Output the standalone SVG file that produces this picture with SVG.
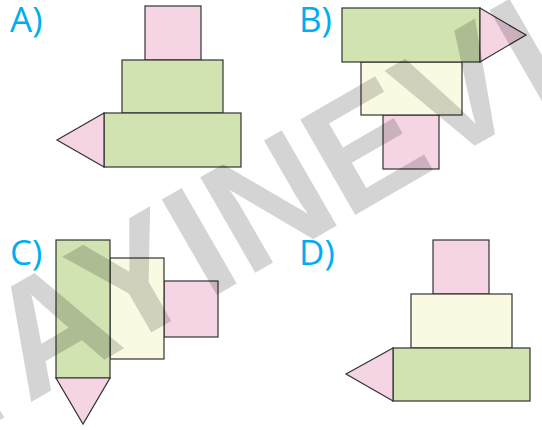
<svg xmlns="http://www.w3.org/2000/svg" width="542" height="430" viewBox="0 0 542 430">
<style>
.pk{fill:#F5D4E4;stroke:#333;stroke-width:1.2}
.gr{fill:#D0E3B1;stroke:#333;stroke-width:1.2}
.yl{fill:#FAFAE3;stroke:#333;stroke-width:1.2}
.lb{font-family:"Open Sans","Liberation Sans",sans-serif;font-size:35px;fill:#00AEEF}
.wm{font-family:"Liberation Sans",Arial,sans-serif;font-weight:bold;font-size:160px;fill:#000;fill-opacity:0.17}
</style>
<rect width="542" height="430" fill="#fff"/>
<g id="optionA">
<text class="lb" x="10" y="32">A)</text>
<rect class="pk" x="145" y="6" width="56" height="54"/>
<rect class="gr" x="122" y="60" width="101" height="53"/>
<rect class="gr" x="104" y="113" width="137" height="54"/>
<polygon class="pk" points="104,113 57,140 104,167"/>
</g>
<g id="optionB">
<text class="lb" x="299" y="32">B)</text>
<rect class="pk" x="383" y="115" width="56" height="54"/>
<rect class="yl" x="361" y="62" width="101" height="53"/>
<rect class="gr" x="342" y="8" width="138" height="54"/>
<polygon class="pk" points="480,8 526,35 480,62"/>
</g>
<g id="optionC">
<text class="lb" x="10" y="265">C)</text>
<rect class="pk" x="164" y="281" width="54" height="56"/>
<rect class="yl" x="110" y="258" width="54" height="101"/>
<rect class="gr" x="56" y="240" width="54" height="138"/>
<polygon class="pk" points="56,378 110,378 83,424"/>
</g>
<g id="optionD">
<text class="lb" x="299" y="265">D)</text>
<rect class="pk" x="433" y="240" width="56" height="54"/>
<rect class="yl" x="411" y="294" width="101" height="54"/>
<rect class="gr" x="393" y="348" width="137" height="53"/>
<polygon class="pk" points="393,348 346,374 393,401"/>
</g>
<g id="watermark">
<text class="wm" transform="translate(-52,450) rotate(-30)" x="0" y="0">YAYINEV<tspan dx="5">İ</tspan></text>
</g>
</svg>
